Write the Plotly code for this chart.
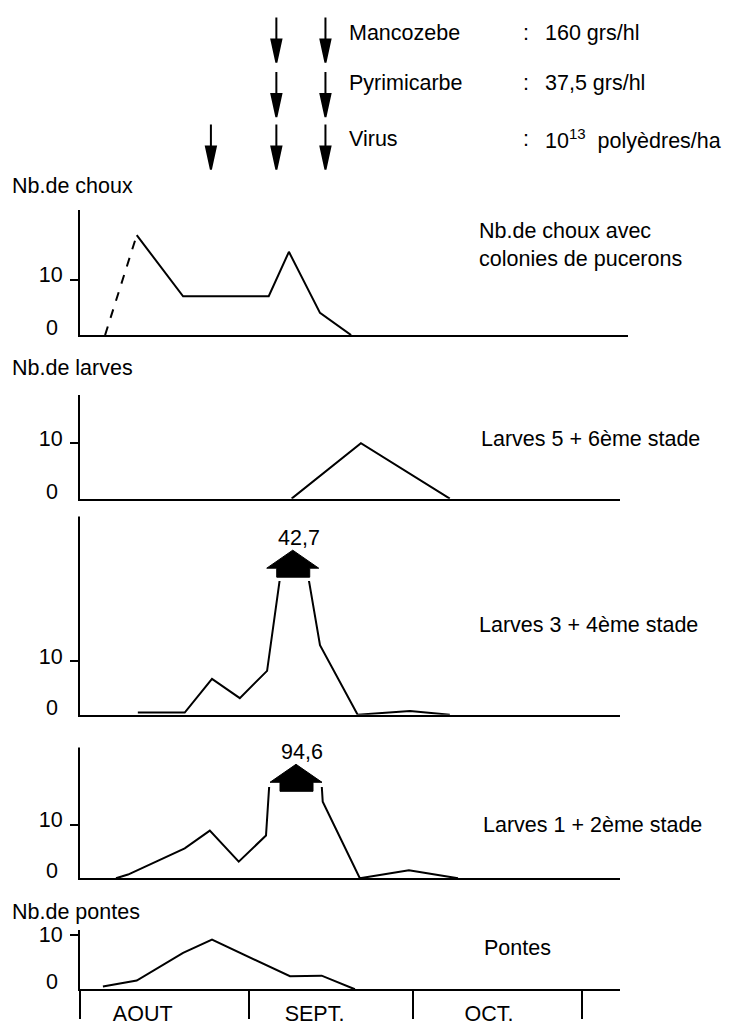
import plotly.graph_objects as go

# ---------------- data (x = days since 1 August) ----------------
choux_x = [4.6, 10.4, 18.9, 34.6, 38.3, 44.0, 49.7]
choux_y = [0, 18, 7, 7, 15, 4, 0]

larves56_x = [38.8, 51.5, 67.8]
larves56_y = [0, 10, 0]

larves34_x = [10.6, 19.2, 24.2, 29.3, 34.3, 39.0, 44.0, 50.9, 60.5, 67.8]
larves34_y = [0.4, 0.4, 6.7, 3.1, 8.2, 42.7, 13.0, 0, 0.7, 0]

larves12_x = [6.6, 8.8, 19.2, 23.8, 29.1, 34.1, 39.6, 44.5, 51.3, 60.3, 69.3]
larves12_y = [0, 0.7, 5.6, 8.9, 3.1, 8.0, 94.6, 14.3, 0, 1.5, 0]

pontes_x = [4.2, 10.4, 18.9, 24.2, 38.5, 44.3, 50.4]
pontes_y = [0.5, 1.6, 6.7, 9.1, 2.4, 2.5, 0]

mancozebe_days = [36, 45]
pyrimicarbe_days = [36, 45]
virus_days = [24, 36, 45]

month_bounds = [0, 31, 61, 92]
month_labels = ["AOUT", "SEPT.", "OCT."]
month_label_pos = [11.5, 43, 75]

treatments = [
    ("Mancozebe", "160 grs/hl", mancozebe_days),
    ("Pyrimicarbe", "37,5 grs/hl", pyrimicarbe_days),
    ("Virus", "10<sup>13</sup>  polyèdres/ha", virus_days),
]

# ---------------- layout geometry ----------------
W, H = 744, 1026
FONT = "Liberation Sans, Arial, sans-serif"
FS = 21.5
X0, X1 = 80, 620
DAYS_MAX = 99
PXDAY = (X1 - X0) / DAYS_MAX


def fx(px):
    return px / W


def fy(py):
    return 1 - py / H


panels = [
    dict(base=332, top=206, axtop=206, ppu=5.6, right=628, shift=-5),
    dict(base=497, top=392, axtop=392, ppu=5.6, right=620, shift=-5),
    dict(base=715, top=580, axtop=515, ppu=5.4, right=620, shift=-5),
    dict(base=880, top=788, axtop=748, ppu=5.4, right=620, shift=-5),
    dict(base=992, top=932, axtop=932, ppu=5.5, right=620, shift=0),
]

series = [
    (larves56_x, larves56_y),
    (larves34_x, larves34_y),
    (larves12_x, larves12_y),
    (pontes_x, pontes_y),
]

LINE = dict(color="black", width=2)
fig = go.Figure()

# panel 1: first segment dashed
fig.add_trace(go.Scatter(x=choux_x[:2], y=choux_y[:2], mode="lines",
                         line=dict(color="black", width=2, dash="dash"),
                         xaxis="x", yaxis="y"))
fig.add_trace(go.Scatter(x=choux_x[1:], y=choux_y[1:], mode="lines",
                         line=LINE, xaxis="x", yaxis="y"))
for i, (sx, sy) in enumerate(series, start=2):
    fig.add_trace(go.Scatter(x=sx, y=sy, mode="lines", line=LINE,
                             xaxis=f"x{i}", yaxis=f"y{i}"))
fig.add_trace(go.Scatter(x=[], y=[], xaxis="x6", yaxis="y5"))

layout = dict(
    width=W, height=H, margin=dict(l=0, r=0, t=0, b=0),
    paper_bgcolor="white", plot_bgcolor="white", showlegend=False,
    font=dict(family=FONT, size=FS, color="black"),
)
shapes = []
annotations = []

for i, p in enumerate(panels, start=1):
    sfx = "" if i == 1 else str(i)
    xa = dict(domain=[fx(X0), fx(p["right"])],
              range=[0, (p["right"] - X0) / PXDAY],
              anchor=f"y{sfx}", showline=True, linewidth=2, linecolor="black",
              showgrid=False, zeroline=False, ticks="", showticklabels=False,
              fixedrange=True)
    if i == 5:
        xa.update(tickmode="array", tickvals=month_bounds, ticks="outside",
                  ticklen=28, tickwidth=2, tickcolor="black")
    ya = dict(domain=[fy(p["base"]), fy(p["top"])],
              range=[0, (p["base"] - p["top"]) / p["ppu"]],
              anchor=f"x{sfx}", showline=True, linewidth=2, linecolor="black",
              showgrid=False, zeroline=False, tickmode="array",
              tickvals=[10], ticktext=["10"], ticks="outside", ticklen=8,
              tickwidth=2, tickcolor="black", ticklabelstandoff=3,
              ticklabelshift=p["shift"], tickfont=dict(size=FS),
              fixedrange=True)
    layout[f"xaxis{sfx}"] = xa
    layout[f"yaxis{sfx}"] = ya
    # "0" label
    annotations.append(dict(text="0", x=fx(X0 - 20), xref="paper",
                            y=0, yref=f"y{sfx}", xanchor="right",
                            yanchor="middle", yshift=7, showarrow=False))
    if p["axtop"] < p["top"]:
        shapes.append(dict(type="line", xref="paper", yref="paper",
                           x0=fx(X0) - 1 / W, x1=fx(X0) - 1 / W,
                           y0=fy(p["top"]), y1=fy(p["axtop"]),
                           line=dict(color="black", width=2)))

layout["xaxis6"] = dict(overlaying="x5", anchor="y5",
                        range=[0, (X1 - X0) / PXDAY], tickmode="array",
                        tickvals=month_label_pos, ticktext=month_labels,
                        ticks="", showline=False, showgrid=False,
                        zeroline=False, ticklabelstandoff=9,
                        tickfont=dict(size=FS), fixedrange=True)

# treatment arrows
row_tips = [57, 112, 165]
row_text_y = [27, 78, 134]
for (name, dose, days), tip, ty in zip(treatments, row_tips, row_text_y):
    for d in days:
        shapes.append(dict(type="path", xref="x", yref="paper",
                           xsizemode="pixel", ysizemode="pixel",
                           xanchor=d, yanchor=fy(tip),
                           path="M0,45 L0,18 M-5,23 L5,23 L0,0 Z",
                           fillcolor="black",
                           line=dict(color="black", width=2)))
    annotations.append(dict(text=name, x=fx(347), y=fy(ty), xref="paper",
                            yref="paper", xanchor="left", yanchor="middle",
                            showarrow=False))
    annotations.append(dict(text=":", x=fx(521), y=fy(ty), xref="paper",
                            yref="paper", xanchor="left", yanchor="middle",
                            showarrow=False))
    annotations.append(dict(text=dose, x=fx(543), y=fy(ty), xref="paper",
                            yref="paper", xanchor="left", yanchor="middle",
                            showarrow=False))

# off-scale peaks: block arrows + value labels
peaks = [(3, larves34_x, larves34_y, 549), (4, larves12_x, larves12_y, 765)]
for i, sx, sy, apex in peaks:
    k = sy.index(max(sy))
    shapes.append(dict(type="path", xref=f"x{i}", yref="paper",
                       xsizemode="pixel", ysizemode="pixel",
                       xanchor=sx[k], yanchor=fy(apex),
                       path="M-26,-18 L0,0 L26,-18 L17,-18 L17,-27 L-16,-27 L-16,-18 Z",
                       fillcolor="black", line=dict(color="black", width=1)))
    annotations.append(dict(text=f"{sy[k]:.1f}".replace(".", ","),
                            x=sx[k], xref=f"x{i}", y=fy(apex), yref="paper",
                            xanchor="center", yanchor="middle", xshift=6,
                            yshift=12, showarrow=False))

# left titles and right labels
left_titles = [("Nb.de choux", 182), ("Nb.de larves", 365),
               ("Nb.de pontes", 914)]
for t, py in left_titles:
    annotations.append(dict(text=t, x=fx(10), y=fy(py), xref="paper",
                            yref="paper", xanchor="left", yanchor="middle",
                            showarrow=False))
right_labels = [("Nb.de choux avec<br>colonies de pucerons", 477, 241),
                ("Larves 5 + 6ème stade", 479, 437),
                ("Larves 3 + 4ème stade", 477, 624),
                ("Larves 1 + 2ème stade", 481, 826),
                ("Pontes", 482, 950)]
for t, px, py in right_labels:
    annotations.append(dict(text=t, x=fx(px), y=fy(py), xref="paper",
                            yref="paper", xanchor="left", yanchor="middle",
                            align="left", showarrow=False))

layout["shapes"] = shapes
layout["annotations"] = annotations
fig.update_layout(**layout)
fig.write_html("out.html")
